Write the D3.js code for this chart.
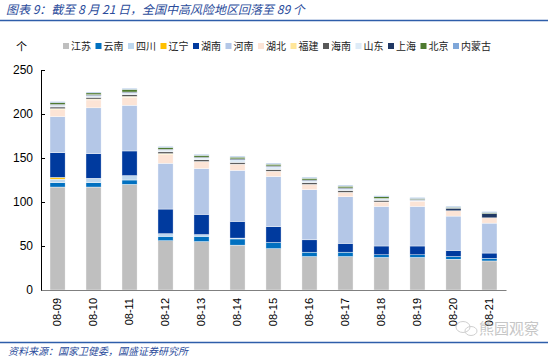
<!DOCTYPE html>
<html><head><meta charset="utf-8">
<script src="https://cdn.jsdelivr.net/npm/d3@7/dist/d3.min.js"></script>
<style>
body{margin:0;background:#fff;}
svg{display:block;}
</style></head>
<body>
<svg id="c" width="550" height="359"></svg>
<script>
const categories = ["08-09","08-10","08-11","08-12","08-13","08-14","08-15","08-16","08-17","08-18","08-19","08-20","08-21"];
const seriesNames = ["江苏","云南","四川","辽宁","湖南","河南","湖北","福建","海南","山东","上海","北京","内蒙古"];
const jiangsu  = [117,117,120,56,55,51,47,38,38,37,37,35,33];
const yunnan   = [5,5,5,5,6,7,7,5,5,3,3,3,3];
const sichuan  = [4,5,5,3,2,1,0,0,0,0,0,0,0];
const liaoning = [2,0,0,0,0,0,0,0,0,0,0,0,0];
const hunan    = [28,28,28,28,23,19,18,14,10,10,10,7,6];
const henan    = [41,52,52,52,52,58,57,57,53,45,45,39,34];
const hubei    = [8,9,9,10,8,7,6,6,5,5,6,6,6];
const fujian   = [1,1,1,1,0,0,0,0,0,0,0,0,0];
const hainan   = [2,2,2,2,2,2,2,2,2,2,0,0,0];
const shandong = [2,2,2,2,2,3,3,2,2,2,1,0,0];
const shanghai = [1,1,1,1,1,1,1,1,1,0,1,3,5];
const beijing  = [2,2,3,2,2,2,2,2,2,2,1,1,1];
const neimenggu= [1,1,1,1,1,1,1,1,1,1,1,1,1];
const yTicks = [0,50,100,150,200,250];

const seriesValues = [jiangsu,yunnan,sichuan,liaoning,hunan,henan,hubei,fujian,hainan,shandong,shanghai,beijing,neimenggu];
const colors = ["#BFBFBF","#0070C0","#BDD7EE","#FFC000","#003A9E","#B4C7E7","#FCE4D6","#FFE699","#595959","#DEEBF7","#203864","#4E7A2F","#7FA7D9"];

const table = categories.map((c,i)=>{const o={cat:c}; seriesNames.forEach((s,j)=>o[s]=seriesValues[j][i]); return o;});
const stack = d3.stack().keys(seriesNames)(table);

const svg = d3.select("#c");
const pL=41, pR=506, pT=70, pB=290;
const x = d3.scaleBand().domain(categories).range([pL,pR]).paddingInner(0.58).paddingOuter(0.25);
const y = d3.scaleLinear().domain([0,250]).range([pB,pT]);

// title
svg.append("text").attr("x",6).attr("y",14).attr("font-family","Noto Sans CJK SC").attr("font-style","italic")
  .attr("font-size",12).attr("fill","#2B4C9B").text("图表 9：截至 8 月 21 日，全国中高风险地区回落至 89 个");
svg.append("line").attr("x1",0).attr("x2",548).attr("y1",20.5).attr("y2",20.5).attr("stroke","#2E5EAA").attr("stroke-width",1.6);

// bars
svg.append("g").selectAll("g").data(stack).join("g").attr("fill",(d,i)=>colors[i])
  .selectAll("rect").data(d=>d).join("rect")
  .attr("x",d=>x(d.data.cat)).attr("width",x.bandwidth())
  .attr("y",d=>y(d[1])).attr("height",d=>Math.max(0,y(d[0])-y(d[1])))
  .attr("stroke","#fff").attr("stroke-width",0.4);

// y axis
const ya = svg.append("g").attr("transform",`translate(${pL},0)`)
  .call(d3.axisLeft(y).tickValues(yTicks).tickSize(-4).tickPadding(8).tickSizeOuter(0));
ya.select(".domain").attr("stroke","#000");
ya.selectAll(".tick line").attr("stroke","#000");
ya.selectAll("text").attr("font-family","Liberation Sans, Arial").attr("font-size",12).attr("fill","#000");

// x axis
const xa = svg.append("g").attr("transform",`translate(0,${pB})`)
  .call(d3.axisBottom(x).tickSize(0).tickSizeOuter(0));
xa.select(".domain").attr("stroke","#808080").attr("stroke-width",1.2);
xa.selectAll("text").attr("font-family","Liberation Sans, Arial").attr("font-size",11).attr("fill","#000")
  .attr("transform","rotate(-90)").attr("text-anchor","end").attr("dx","-8").attr("dy","0.35em").attr("y",0).attr("x",0);

// unit
svg.append("text").attr("x",16).attr("y",51).attr("font-family","Noto Sans CJK SC").attr("font-size",11).text("个");

// legend
const lg = svg.append("g");
let lx = 63;
seriesNames.forEach((s,i)=>{
  lg.append("rect").attr("x",lx).attr("y",43).attr("width",6).attr("height",6).attr("fill",colors[i]);
  const t = lg.append("text").attr("x",lx+8).attr("y",50).attr("font-family","Noto Sans CJK SC").attr("font-size",10).attr("fill","#222").text(s);
  lx += 8 + t.node().getComputedTextLength() + 4.5;
});

// footer
svg.append("line").attr("x1",0).attr("x2",548).attr("y1",342.5).attr("y2",342.5).attr("stroke","#2E5EAA").attr("stroke-width",1.6);
svg.append("text").attr("x",8).attr("y",355).attr("font-family","Noto Sans CJK SC").attr("font-style","italic")
  .attr("font-size",10).attr("fill","#2B4C9B").text("资料来源：国家卫健委，国盛证券研究所");

// watermark
const wm = svg.append("g").attr("opacity",0.55);
wm.append("ellipse").attr("cx",463).attr("cy",327).attr("rx",7).attr("ry",5.5).attr("fill","none").attr("stroke","#aaa").attr("stroke-width",1);
wm.append("ellipse").attr("cx",471).attr("cy",331).attr("rx",6).attr("ry",4.5).attr("fill","none").attr("stroke","#aaa").attr("stroke-width",1);
wm.append("text").attr("x",479).attr("y",334).attr("font-family","Noto Sans CJK SC").attr("font-size",15).attr("fill","#999").text("熊园观察");
</script>
</body></html>
